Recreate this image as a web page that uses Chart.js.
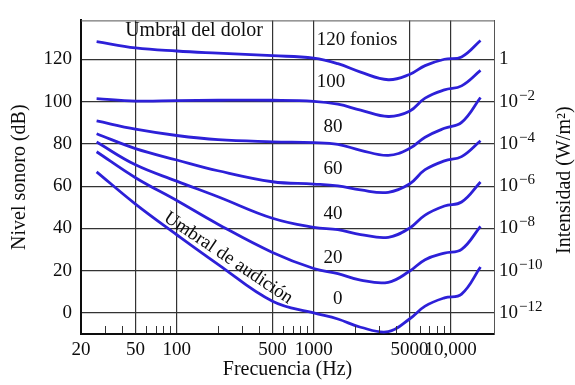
<!DOCTYPE html>
<html>
<head>
<meta charset="utf-8">
<script src="https://cdn.jsdelivr.net/npm/chart.js@4.4.1/dist/chart.umd.min.js"></script>
<style>
  html, body { margin: 0; padding: 0; background: #fff; }
</style>
</head>
<body>
<canvas id="chart" width="575" height="385"></canvas>
<script>
// frequencies (Hz) where the curves were read
const freqs = [26, 50, 100, 200, 500, 1000, 1500, 2200, 3500, 5000, 6500, 9000, 12000, 16500];

// equal loudness curves (dB)
const phon120 = [128.5, 125.5, 124, 123, 121.8, 120.6, 118, 114, 110.4, 112.9, 117.1, 120.1, 121.2, 129];
const phon100 = [101.5, 100.3, 100.5, 100.7, 100.7, 100.2, 98.8, 96, 93, 95.5, 101.7, 105.6, 107.5, 114.8];
const phon80 = [90.9, 87, 84, 82, 81, 80.6, 79.8, 77, 74.6, 77.8, 83.2, 87.4, 90.2, 102];
const phon60 = [84.8, 77.8, 72.4, 67.3, 62.1, 61, 60.1, 58.2, 57.1, 61, 67.8, 72, 74, 81.5];
const phon40 = [80.9, 70.1, 62.4, 55, 44.8, 40.5, 39.4, 37.1, 35.8, 40.1, 46.3, 50.6, 52.5, 62];
const phon20 = [76.3, 64, 53.2, 42, 28.6, 21, 18.6, 15.5, 14.5, 19.7, 25.2, 28.3, 30.1, 41];
const phon0 = [66.8, 51.5, 37, 23, 5.5, 0, -2.9, -6.8, -8.9, -2.9, 3.2, 7.1, 8.9, 21.7];

// axes
const freqTicks = [20, 50, 100, 500, 1000, 5000, 10000];
const minorFreqs = [30, 40, 60, 70, 80, 90, 200, 300, 400, 600, 700, 800, 900, 2000, 3000, 4000, 6000, 7000, 8000, 9000];
const dbTicks = [0, 20, 40, 60, 80, 100, 120];
const intensityExp = [-12, -10, -8, -6, -4, -2, 0];

// curve labels (text, anchor freq, anchor dB)
const phonLabels = ['0', '20', '40', '60', '80', '100', '120 fonios'];
const phonLabelFreq = [1380, 1180, 1180, 1180, 1180, 1050, 1050];
const phonLabelDb = [6.6, 26, 46.8, 68.3, 87.8, 109.3, 129.2];

const SERIF = "'Liberation Serif', 'DejaVu Serif', serif";
const BLUE = '#2d20d8';
const INK = '#0d0d0d';

function pts(vals) {
  return freqs.map((f, i) => ({ x: f, y: vals[i] }));
}

const curves = [phon120, phon100, phon80, phon60, phon40, phon20, phon0];

const extras = {
  id: 'extras',
  afterDraw(chart) {
    const { ctx, chartArea: a, scales } = chart;
    const xs = scales.x, ys = scales.y;
    ctx.save();

    // top border
    ctx.strokeStyle = '#555';
    ctx.lineWidth = 1;
    ctx.beginPath();
    ctx.moveTo(a.left, a.top + 0.5);
    ctx.lineTo(a.right, a.top + 0.5);
    ctx.stroke();

    // minor ticks on the frequency axis
    ctx.strokeStyle = '#333';
    minorFreqs.forEach(f => {
      const x = Math.round(xs.getPixelForValue(f)) + 0.5;
      ctx.beginPath();
      ctx.moveTo(x, a.bottom - 1);
      ctx.lineTo(x, a.bottom - 8);
      ctx.stroke();
    });

    // intensity labels on the right
    ctx.fillStyle = INK;
    ctx.textBaseline = 'middle';
    ctx.textAlign = 'left';
    dbTicks.forEach((db, i) => {
      const y = ys.getPixelForValue(db);
      const x0 = a.right + 5;
      const e = intensityExp[i];
      ctx.font = '19px ' + SERIF;
      if (e === 0) {
        ctx.fillText('1', x0, y);
        return;
      }
      ctx.fillText('10', x0, y);
      const w = ctx.measureText('10').width;
      ctx.font = '15px ' + SERIF;
      ctx.fillText('\u2212' + Math.abs(e), x0 + w + 1, y - 6);
    });

    // right axis title
    ctx.save();
    ctx.translate(565, (a.top + a.bottom) / 2 + 3);
    ctx.rotate(-Math.PI / 2);
    ctx.textAlign = 'center';
    ctx.font = '20px ' + SERIF;
    ctx.fillText('Intensidad (W/m\u00B2)', 0, 0);
    ctx.restore();

    // curve labels
    ctx.font = '19px ' + SERIF;
    phonLabels.forEach((t, i) => {
      ctx.fillText(t, xs.getPixelForValue(phonLabelFreq[i]), ys.getPixelForValue(phonLabelDb[i]));
    });

    ctx.font = '20px ' + SERIF;
    ctx.fillText('Umbral del dolor', xs.getPixelForValue(42), ys.getPixelForValue(133.6));

    ctx.save();
    ctx.translate(xs.getPixelForValue(238), ys.getPixelForValue(26));
    ctx.rotate(0.59);
    ctx.textAlign = 'center';
    ctx.font = '19px ' + SERIF;
    ctx.fillText('Umbral de audici\u00F3n', 0, 0);
    ctx.restore();

    ctx.restore();
  }
};

new Chart(document.getElementById('chart'), {
  type: 'line',
  data: {
    datasets: curves.map(c => ({
      data: pts(c),
      borderColor: BLUE,
      borderWidth: 2.8,
      pointRadius: 0,
      fill: false,
      tension: 0.4
    }))
  },
  options: {
    responsive: false,
    animation: false,
    devicePixelRatio: 1,
    layout: { padding: { top: 12, left: 0, right: 0, bottom: 0 } },
    plugins: {
      legend: { display: false },
      tooltip: { enabled: false }
    },
    scales: {
      x: {
        type: 'logarithmic',
        min: 20,
        max: 20700,
        afterBuildTicks: s => { s.ticks = freqTicks.map(v => ({ value: v })); },
        afterFit: s => { s.height = 51; },
        grid: { color: '#333', lineWidth: 1.2, drawTicks: false },
        border: { color: INK, width: 2 },
        ticks: {
          color: INK,
          font: { family: SERIF, size: 19 },
          padding: 5,
          maxRotation: 0,
          autoSkip: false,
          callback: v => v === 10000 ? '10,000' : String(v)
        },
        title: {
          display: true,
          text: 'Frecuencia (Hz)',
          color: INK,
          font: { family: SERIF, size: 20 },
          padding: { top: 0, bottom: 3 }
        }
      },
      y: {
        min: -10,
        max: 138.5,
        afterBuildTicks: s => { s.ticks = dbTicks.map(v => ({ value: v })); },
        afterFit: s => { s.width = 81; },
        grid: { color: '#333', lineWidth: 1.2, drawTicks: false },
        border: { color: INK, width: 2 },
        ticks: {
          color: INK,
          font: { family: SERIF, size: 19 },
          padding: 9
        },
        title: {
          display: true,
          text: 'Nivel sonoro (dB)',
          color: INK,
          font: { family: SERIF, size: 20 },
          padding: { top: 8, bottom: 0 }
        }
      },
      y2: {
        position: 'right',
        min: -10,
        max: 138.5,
        afterFit: s => { s.width = 81; },
        grid: { display: false, drawTicks: false },
        border: { color: '#555', width: 1 },
        ticks: { display: false }
      }
    }
  },
  plugins: [extras]
});
</script>
</body>
</html>
